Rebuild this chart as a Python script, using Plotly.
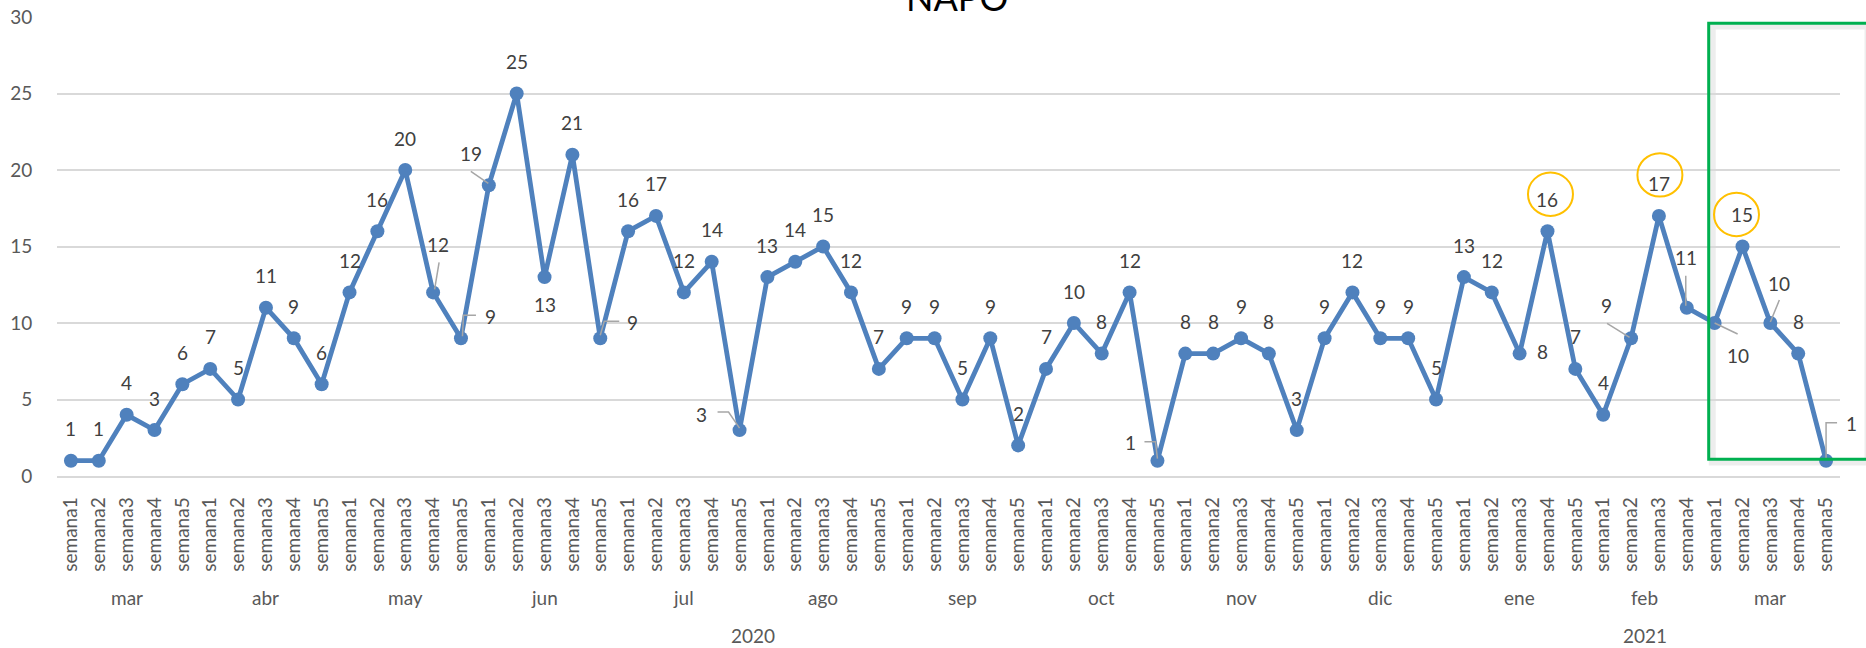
import plotly.graph_objects as go

# ---------------- data ----------------
months = ["mar", "abr", "may", "jun", "jul", "ago", "sep", "oct", "nov", "dic", "ene", "feb", "mar"]
weeks_per_month = [5, 5, 5, 5, 5, 5, 5, 5, 5, 5, 5, 4, 5]
years = ["2020", "2021"]
months_per_year = [10, 3]
values = [1, 1, 4, 3, 6,
          7, 5, 11, 9, 6,
          12, 16, 20, 12, 9,
          19, 25, 13, 21, 9,
          16, 17, 12, 14, 3,
          13, 14, 15, 12, 7,
          9, 9, 5, 9, 2,
          7, 10, 8, 12, 1,
          8, 8, 9, 8, 3,
          9, 12, 9, 9, 5,
          13, 12, 8, 16, 7,
          4, 9, 17, 11,
          10, 15, 10, 8, 1]
week_labels = [f"semana{k + 1}" for n in weeks_per_month for k in range(n)]
title_text = "NAPO"
highlighted = [53, 57, 60]  # points circled in orange

# ---------------- style ----------------
BLUE = "#4F81BD"
FONT = "Lato"
x = list(range(len(values)))

W, H = 1866, 648
L, R, T, B = 57, 26, 17, 172
PH = H - T - B


def py(px):  # pixel row -> paper y
    return (H - B - px) / PH


fig = go.Figure()
fig.add_trace(go.Scatter(
    x=x, y=values, mode="lines+markers",
    line=dict(color=BLUE, width=4.8),
    marker=dict(size=14, color=BLUE),
    hoverinfo="x+y", showlegend=False,
))

# data-label offsets (pixels, right/up) for labels moved off the default "above" spot
label_offsets = {13: (5, 48), 14: (30, 22), 15: (-18, 32), 17: (0, -27), 19: (32, 16),
                 24: (-38, 16), 39: (-27, 18), 52: (23, 2), 56: (-25, 33), 58: (-1, 50),
                 59: (23, -32), 61: (9, 40), 63: (25, 37)}
leaders = {13: [(6, 30), (1.5, 3)],
           14: [(1.5, 2), (2.5, 23), (15, 23)],
           15: [(-18, 14), (-0.5, 2)],
           19: [(0, 3), (4, 17), (19, 17)],
           24: [(-22, 18), (-11, 18), (0, 2)],
           39: [(-13, 19), (-2, 19), (0, 2)],
           56: [(-24, 15), (-1.5, 1)],
           58: [(-1, 32), (-1, 2)],
           59: [(0, 0), (23, -11)],
           61: [(0, 1), (9, 23)],
           63: [(0, 2), (0, 38), (11, 38)]}

annotations = []
for i, v in enumerate(values):
    dx, dy = label_offsets.get(i, (0, 32))
    annotations.append(dict(x=i, y=v, xref="x", yref="y", text=str(v), showarrow=False,
                            xshift=dx, yshift=dy, font=dict(family=FONT, size=19, color="#404040")))

shapes = []
for i, pts in leaders.items():
    path = "M " + " L ".join(f"{a},{b}" for a, b in pts)
    shapes.append(dict(type="path", path=path, xref="x", yref="y", xsizemode="pixel",
                       ysizemode="pixel", xanchor=i, yanchor=values[i],
                       line=dict(color="#A6A6A6", width=1.5), layer="above"))

# month labels and year labels, centred on their groups
start = 0
for m, n in zip(months, weeks_per_month):
    annotations.append(dict(x=start + (n - 1) / 2, y=py(597), xref="x", yref="paper", text=m,
                            showarrow=False, yanchor="middle",
                            font=dict(family=FONT, size=19, color="#595959")))
    start += n
start = 0
mi = 0
for yr, nm in zip(years, months_per_year):
    nw = sum(weeks_per_month[mi:mi + nm])
    annotations.append(dict(x=start + (nw - 1) / 2, y=py(635), xref="x", yref="paper", text=yr,
                            showarrow=False, yanchor="middle",
                            font=dict(family=FONT, size=19, color="#595959")))
    start += nw
    mi += nm

# title (cut off at the top in the original)
annotations.append(dict(x=0.505, y=py(-3), xref="paper", yref="paper", text=title_text,
                        showarrow=False, yanchor="middle",
                        font=dict(family=FONT, size=36, color="#000000")))

# orange highlight circles
circle_offsets = {53: (3, 37), 57: (1, 41), 60: (-6, 32)}
for i in highlighted:
    cx, cy = circle_offsets[i]
    shapes.append(dict(type="circle", xref="x", yref="y", xsizemode="pixel", ysizemode="pixel",
                       xanchor=i, yanchor=values[i], x0=cx - 22.5, x1=cx + 22.5,
                       y0=cy - 21.7, y1=cy + 21.7, line=dict(color="#FFC000", width=2),
                       layer="above"))

# green frame with soft shadow
x0p, x1p = (1708.7 - L) / (W - L - R), (W + 2 - L) / (W - L - R)
shapes.append(dict(type="rect", xref="paper", yref="paper", x0=x0p + 0.002, x1=x1p,
                   y0=py(462), y1=py(26), line=dict(color="rgba(0,0,0,0.07)", width=7),
                   layer="below"))
shapes.append(dict(type="rect", xref="paper", yref="paper", x0=x0p, x1=x1p,
                   y0=py(459.3), y1=py(23.3), line=dict(color="#00B050", width=3),
                   layer="above"))

fig.update_layout(
    width=W, height=H,
    margin=dict(l=L, r=R, t=T, b=B, pad=0, autoexpand=False),
    paper_bgcolor="white", plot_bgcolor="white",
    font=dict(family=FONT, size=19, color="#595959"),
    showlegend=False,
    annotations=annotations,
    shapes=shapes,
    xaxis=dict(range=[-0.5, len(values) - 0.5], tickmode="array", tickvals=x,
               ticktext=week_labels, tickangle=-90, showgrid=False, zeroline=False,
               showline=True, linecolor="#D9D9D9", linewidth=1.5, automargin=False,
               ticks="outside", ticklen=12, tickcolor="rgba(0,0,0,0)",
               tickfont=dict(family=FONT, size=19, color="#595959")),
    yaxis=dict(range=[0, 30], dtick=5, showgrid=True, gridcolor="#D9D9D9", gridwidth=1.5,
               zeroline=False, showline=False, ticks="outside", ticklen=20, automargin=False,
               tickcolor="rgba(0,0,0,0)",
               tickfont=dict(family=FONT, size=19, color="#595959")),
)

fig.write_html("out.html", config={"displayModeBar": False},
               post_script="document.body.style.margin='0';")
